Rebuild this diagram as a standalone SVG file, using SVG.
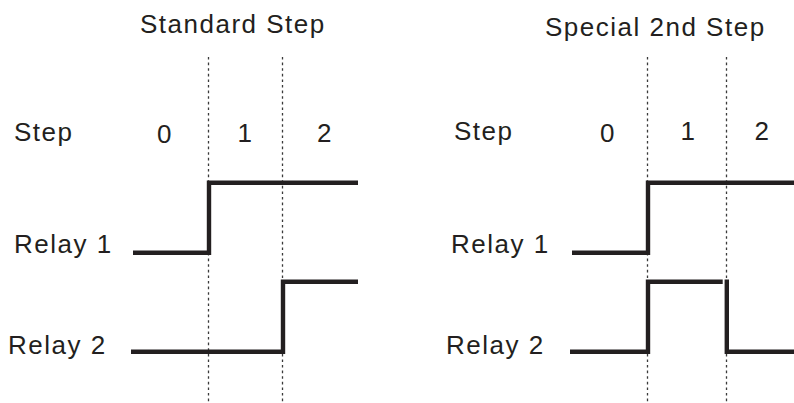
<svg xmlns="http://www.w3.org/2000/svg" width="794" height="403" viewBox="0 0 794 403">
<style>
.t{font-family:"Liberation Sans",Arial,sans-serif;font-size:26px;fill:#231f20;letter-spacing:1.5px}
.g{fill:none;stroke:#3a3a3a;stroke-width:1.3;stroke-dasharray:2.6 3}
.w{fill:none;stroke:#231f20;stroke-width:4.4;stroke-linejoin:miter;stroke-linecap:butt}
</style>
<rect width="794" height="403" fill="#ffffff"/>
<g id="grid">
<line class="g" x1="208.5" y1="57" x2="208.5" y2="403"/>
<line class="g" x1="282.5" y1="57" x2="282.5" y2="403"/>
<line class="g" x1="647.5" y1="57" x2="647.5" y2="403"/>
<line class="g" x1="726.5" y1="57" x2="726.5" y2="403"/>
</g>
<g id="standard">
<text class="t" x="140" y="33">Standard Step</text>
<text class="t" x="14" y="141">Step</text>
<text class="t" x="157" y="143">0</text>
<text class="t" x="237.5" y="142">1</text>
<text class="t" x="317" y="142">2</text>
<text class="t" x="14" y="253">Relay 1</text>
<text class="t" x="8" y="354">Relay 2</text>
</g>
<g id="special">
<text class="t" x="545" y="36">Special 2nd Step</text>
<text class="t" x="454" y="140">Step</text>
<text class="t" x="600" y="142">0</text>
<text class="t" x="680.5" y="139.5">1</text>
<text class="t" x="754.5" y="139.5">2</text>
<text class="t" x="451" y="253">Relay 1</text>
<text class="t" x="446" y="354">Relay 2</text>
</g>
<g id="waveforms">
<path id="std-relay1" class="w" d="M133 252.7 H209 V182.7 H358"/>
<path id="std-relay2" class="w" d="M131 351.7 H283 V281.7 H358"/>
<path id="spc-relay1" class="w" d="M572 252.7 H648 V182.7 H794"/>
<path id="spc-relay2a" class="w" d="M570 351.7 H648 V281.7 H722.7"/>
<path id="spc-relay2b" class="w" d="M726.8 279.5 V351.7 H794"/>
</g>
</svg>
